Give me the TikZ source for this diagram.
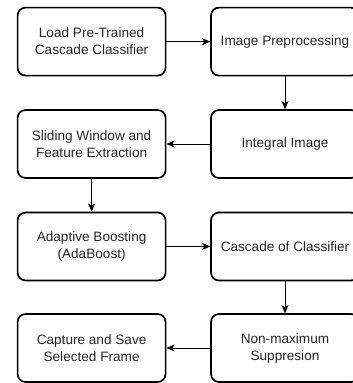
\documentclass[tikz,border=0pt]{standalone}
\usepackage{fontspec}
\setmainfont{Liberation Sans}
\usetikzlibrary{arrows.meta}
\begin{document}
\begin{tikzpicture}[x=1pt,y=-1pt,
  stepbox/.style={draw=black, line width=1.7pt, rounded corners=8pt, minimum width=148pt, minimum height=68pt, inner sep=0pt, align=center, font=\fontsize{13.6}{17}\selectfont, text=black!85},
  conn/.style={line width=0.9pt, -{Stealth[length=8pt,width=7pt,inset=2pt]}}]
\clip (0,0) rectangle (353,383);
\fill[white] (0,0) rectangle (353,383);
\node[stepbox] (a) at (91.6,41.6) {Load Pre-Trained\\Cascade Classifier};
\node[stepbox] (b) at (285,41.6) {Image Preprocessing};
\node[stepbox] (c) at (285,144) {Integral Image};
\node[stepbox] (d) at (91.6,144) {Sliding Window and\\Feature Extraction};
\node[stepbox] (e) at (91.6,246.5) {Adaptive Boosting\\(AdaBoost)};
\node[stepbox] (f) at (285,246.5) {Cascade of Classifier};
\node[stepbox] (g) at (285,348) {Non-maximum\\Suppresion};
\node[stepbox] (h) at (91.6,348) {Capture and Save\\Selected Frame};
\draw[conn] (a) -- (b);
\draw[conn] (b) -- (c);
\draw[conn] (c) -- (d);
\draw[conn] (d) -- (e);
\draw[conn] (e) -- (f);
\draw[conn] (f) -- (g);
\draw[conn] (g) -- (h);
\end{tikzpicture}
\end{document}
